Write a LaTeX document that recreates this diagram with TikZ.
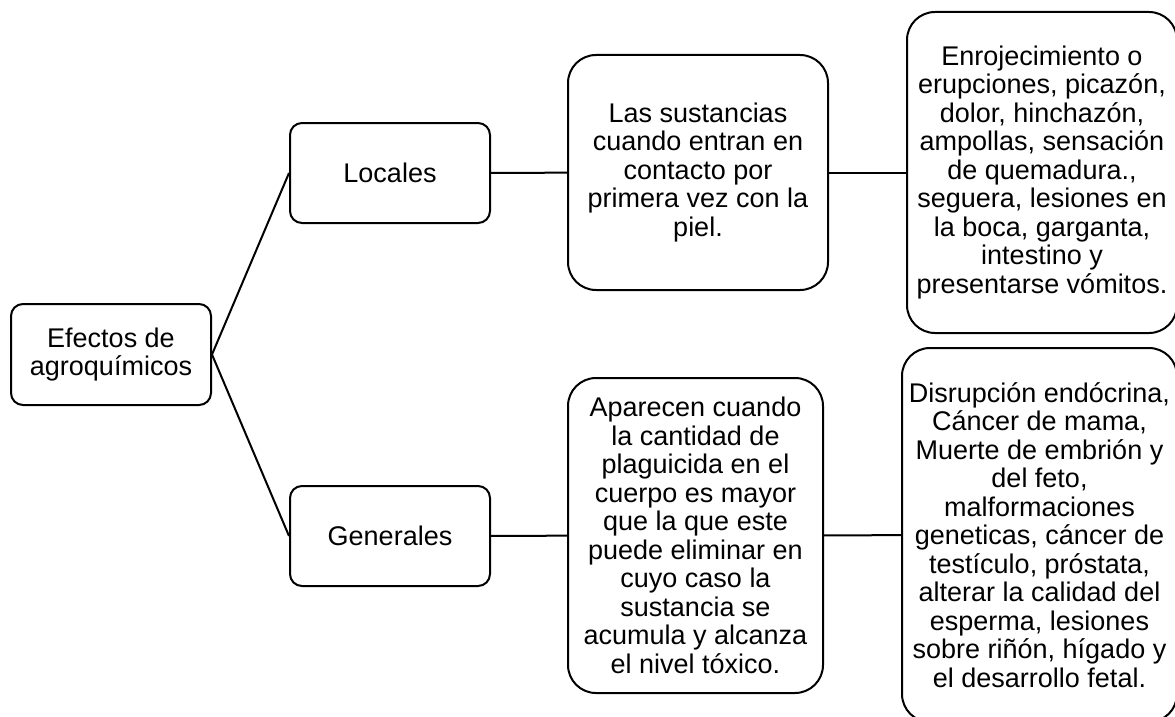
\documentclass[tikz,border=0pt]{standalone}
\usepackage{fontspec}
\setmainfont{Liberation Sans}
\usepackage{tikz}

\begin{document}
\begin{tikzpicture}[x=1pt,y=-1pt,line width=2pt,
  box/.style={draw,rounded corners=12pt,align=center,inner sep=0pt,
    font=\fontsize{27}{28.5}\selectfont},
  bigbox/.style={box,rounded corners=28pt}]
  \useasboundingbox (0,0) rectangle (1175,717);
  \node[box,minimum width=200pt,minimum height=101pt] (efectos) at (111,354.5) {Efectos de\\agroquímicos};
  \node[box,minimum width=200pt,minimum height=100pt] (locales) at (390,173) {Locales};
  \node[box,minimum width=200pt,minimum height=100pt] (generales) at (390,536) {Generales};
  \node[bigbox,minimum width=260pt,minimum height=235pt] (contacto) at (698,172.5)
    {Las sustancias\\cuando entran en\\contacto por\\primera vez con la\\piel.};
  \node[bigbox,minimum width=255pt,minimum height=315pt] (acumula) at (695.5,535.5)
    {Aparecen cuando\\la cantidad de\\plaguicida en el\\cuerpo es mayor\\que la que este\\puede eliminar en\\cuyo caso la\\sustancia se\\acumula y alcanza\\el nivel tóxico.};
  \node[bigbox,minimum width=270pt,minimum height=321pt] (sintomas) at (1042,172.5)
    {Enrojecimiento o\\erupciones, picazón,\\dolor, hinchazón,\\ampollas, sensación\\de quemadura.,\\seguera, lesiones en\\la boca, garganta,\\intestino y\\presentarse vómitos.};
  \node[bigbox,minimum width=275pt,minimum height=374pt] (danos) at (1039.5,535)
    {Disrupción endócrina,\\Cáncer de mama,\\Muerte de embrión y\\del feto,\\malformaciones\\geneticas, cáncer de\\testículo, próstata,\\alterar la calidad del\\esperma, lesiones\\sobre riñón, hígado y\\el desarrollo fetal.};

  \path (efectos.east) edge (locales.west)
        (efectos.east) edge (generales.west)
        (locales) edge (contacto)
        (contacto) edge (sintomas)
        (generales) edge (acumula)
        (acumula) edge (danos);
\end{tikzpicture}
\end{document}
